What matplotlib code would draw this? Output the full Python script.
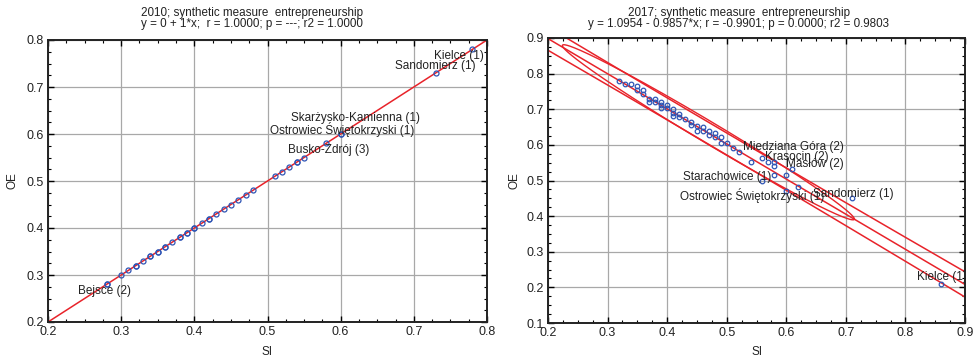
import numpy as np
import matplotlib
matplotlib.use("Agg")
import matplotlib.pyplot as plt
from matplotlib.ticker import MultipleLocator, FuncFormatter

plt.rcParams['font.family'] = ['Liberation Sans', 'DejaVu Sans']

# ---------------- data: 2010 ----------------
si_2010 = [0.28, 0.28, 0.30, 0.31, 0.32, 0.32, 0.33, 0.34, 0.34, 0.35, 0.35, 0.36, 0.36,
           0.37, 0.38, 0.38, 0.39, 0.39, 0.40, 0.40, 0.41, 0.42, 0.42, 0.43, 0.44, 0.45,
           0.46, 0.47, 0.48, 0.51, 0.52, 0.53, 0.54, 0.54, 0.55, 0.58, 0.60, 0.60, 0.73, 0.78]
oe_2010 = [0.28, 0.28, 0.30, 0.31, 0.32, 0.32, 0.33, 0.34, 0.34, 0.35, 0.35, 0.36, 0.36,
           0.37, 0.38, 0.38, 0.39, 0.39, 0.40, 0.40, 0.41, 0.42, 0.42, 0.43, 0.44, 0.45,
           0.46, 0.47, 0.48, 0.51, 0.52, 0.53, 0.54, 0.54, 0.55, 0.58, 0.60, 0.60, 0.73, 0.78]
labels_2010 = ["Kielce (1)", "Sandomierz (1)", "Skarżysko-Kamienna (1)",
               "Ostrowiec Świętokrzyski (1)", "Busko-Zdrój (3)", "Bejsce (2)"]
label_x_2010 = [0.761, 0.729, 0.620, 0.602, 0.583, 0.277]
label_y_2010 = [0.766, 0.745, 0.635, 0.610, 0.567, 0.265]
intercept_2010, slope_2010 = 0.0, 1.0

# ---------------- data: 2017 ----------------
si_2017 = [0.32, 0.33, 0.34, 0.35, 0.35, 0.36, 0.36, 0.37, 0.37, 0.38, 0.38, 0.39, 0.39,
           0.39, 0.40, 0.40, 0.41, 0.41, 0.41, 0.42, 0.42, 0.43, 0.44, 0.44, 0.45, 0.45,
           0.46, 0.46, 0.47, 0.47, 0.48, 0.48, 0.49, 0.49, 0.50, 0.51, 0.52, 0.54, 0.56,
           0.57, 0.58, 0.58, 0.58, 0.60, 0.61, 0.56, 0.60, 0.62, 0.71, 0.86]
oe_2017 = [0.78, 0.77, 0.772, 0.765, 0.755, 0.753, 0.744, 0.73, 0.721, 0.73, 0.721, 0.721,
           0.712, 0.703, 0.712, 0.703, 0.702, 0.69, 0.68, 0.688, 0.679, 0.674, 0.665, 0.655,
           0.653, 0.64, 0.651, 0.64, 0.64, 0.628, 0.632, 0.623, 0.623, 0.604, 0.604, 0.592,
           0.581, 0.551, 0.564, 0.551, 0.553, 0.541, 0.515, 0.515, 0.531, 0.499, 0.471,
           0.481, 0.45, 0.21]
labels_2017 = ["Miedziana Góra (2)", "Krasocin (2)", "Masłów (2)", "Starachowice (1)",
               "Ostrowiec Świętokrzyski (1)", "Sandomierz (1)", "Kielce (1)"]
label_x_2017 = [0.612, 0.617, 0.648, 0.501, 0.542, 0.712, 0.861]
label_y_2017 = [0.595, 0.567, 0.545, 0.511, 0.459, 0.462, 0.228]
intercept_2017, slope_2017 = 1.0954, -0.9857
r_2017 = -0.9901

titles_l1 = ["2010; synthetic measure  entrepreneurship",
             "2017; synthetic measure  entrepreneurship"]
titles_l2 = ["y = 0 + 1*x;  r = 1.0000; p = ---; r2 = 1.0000",
             "y = 1.0954 - 0.9857*x; r = -0.9901; p = 0.0000; r2 = 0.9803"]

RED = '#e8232a'
BLUE = '#2f55b5'
TXT = '#222222'
FS = 8.4

fig = plt.figure(figsize=(9.74, 3.57), dpi=100)
W, H = 974, 357

def make_ax(x0, y0, x1, y1):
    return fig.add_axes([x0 / W, 1 - y1 / H, (x1 - x0) / W, (y1 - y0) / H])

ax1 = make_ax(48, 40, 487, 322)
ax2 = make_ax(548, 38, 965, 323)

def style(ax, xlim, ylim):
    ax.set_xlim(*xlim)
    ax.set_ylim(*ylim)
    ax.xaxis.set_major_locator(MultipleLocator(0.1))
    ax.yaxis.set_major_locator(MultipleLocator(0.1))
    ax.xaxis.set_minor_locator(MultipleLocator(0.025))
    ax.yaxis.set_minor_locator(MultipleLocator(0.025))
    ax.grid(True, which='major', color='#a8a8a8', linewidth=0.9, zorder=0)
    ax.set_axisbelow(True)
    ax.tick_params(which='both', direction='in', top=True, right=True,
                   labelsize=9, colors='black', labelcolor=TXT)
    ax.tick_params(which='major', length=4, width=1.0, pad=3)
    ax.tick_params(which='minor', length=2.5, width=0.8)
    ax.xaxis.set_major_formatter(FuncFormatter(lambda v, p: f"{v:.1f}"))
    ax.yaxis.set_major_formatter(FuncFormatter(lambda v, p: f"{v:.1f}"))
    for s in ax.spines.values():
        s.set_linewidth(1.4)
        s.set_color(TXT)

style(ax1, (0.2, 0.8), (0.2, 0.8))
style(ax2, (0.2, 0.9), (0.1, 0.9))

# ---- left panel ----
xx = np.linspace(0.2, 0.8, 50)
ax1.plot(xx, intercept_2010 + slope_2010 * xx, color=RED, lw=1.1, zorder=2)
ax1.plot(si_2010, oe_2010, 'o', ms=3.6, mfc='none', mec=BLUE, mew=0.9, zorder=3)
for t, x, y in zip(labels_2010, label_x_2010, label_y_2010):
    ax1.text(x, y, t, ha='center', va='center', fontsize=8.5, color=TXT, zorder=4)

# ---- right panel ----
x = np.array(si_2017)
y = np.array(oe_2017)
n = len(x)
xm, ym = x.mean(), y.mean()
sdx, sdy = x.std(ddof=1), y.std(ddof=1)
sxx = ((x - xm) ** 2).sum()
# residual standard error implied by the reported correlation
s = sdy * np.sqrt(1 - r_2017 ** 2) * np.sqrt((n - 1) / (n - 2))
tval = 2.01
xg = np.linspace(0.2, 0.9, 200)
yg = intercept_2017 + slope_2017 * xg
half = tval * s * np.sqrt(1 + 1 / n + (xg - xm) ** 2 / sxx)
ax2.plot(xg, yg, color=RED, lw=1.1, zorder=2)
ax2.plot(xg, yg + half, color=RED, lw=1.1, zorder=2)
ax2.plot(xg, yg - half, color=RED, lw=1.1, zorder=2)

# confidence ellipse using reported correlation
cov = np.array([[sdx ** 2, r_2017 * sdx * sdy], [r_2017 * sdx * sdy, sdy ** 2]])
L = np.linalg.cholesky(cov)
tt = np.linspace(0, 2 * np.pi, 600)
circ = np.vstack([np.cos(tt), np.sin(tt)]) * 2.3
ell = L @ circ
ax2.plot(xm + ell[0], ym + ell[1], color=RED, lw=1.0, zorder=2)

ax2.plot(si_2017, oe_2017, 'o', ms=3.3, mfc='none', mec=BLUE, mew=0.9, zorder=3)
for t, xx_, yy_ in zip(labels_2017, label_x_2017, label_y_2017):
    ax2.text(xx_, yy_, t, ha='center', va='center', fontsize=8.5, color=TXT,
             zorder=4, clip_on=True)

# titles and axis labels
for cx, l1, l2 in zip([252, 738.5], titles_l1, titles_l2):
    fig.text(cx / W, 1 - 12.7 / H, l1, ha='center', va='center', fontsize=FS, color=TXT)
    fig.text(cx / W, 1 - 24.5 / H, l2, ha='center', va='center', fontsize=FS, color=TXT)

fig.text(267 / W, 1 - 352 / H, "SI", ha='center', va='center', fontsize=8.5, color=TXT)
fig.text(756.5 / W, 1 - 352 / H, "SI", ha='center', va='center', fontsize=8.5, color=TXT)
fig.text(12 / W, 1 - 181 / H, "OE", ha='center', va='center', rotation=90, fontsize=8.5, color=TXT)
fig.text(514 / W, 1 - 181 / H, "OE", ha='center', va='center', rotation=90, fontsize=8.5, color=TXT)

fig.savefig("out.png", dpi=100)
